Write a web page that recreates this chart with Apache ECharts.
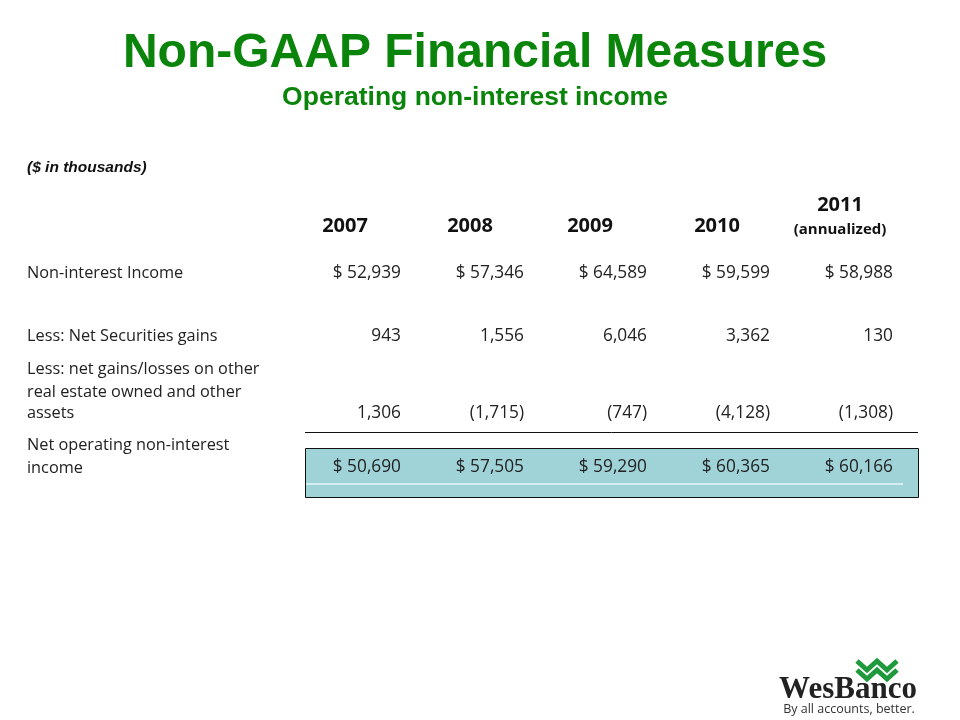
<!DOCTYPE html>
<html>
<head>
<meta charset="utf-8">
<script src="https://cdn.jsdelivr.net/npm/echarts@6/dist/echarts.min.js"></script>
<style>
  html, body { margin: 0; padding: 0; background: #fff; }
  #plot { width: 960px; height: 720px; }
</style>
</head>
<body>
<div id="plot"></div>
<script>
// 表格数据
var years = ['2007', '2008', '2009', '2010', '2011'];
var rowLabels = [
  ['Non-interest Income'],
  ['Less: Net Securities gains'],
  ['Less: net gains/losses on other', 'real estate owned and other', 'assets'],
  ['Net operating non-interest', 'income']
];
var nonInterestIncome = [52939, 57346, 64589, 59599, 58988];
var securitiesGains = [943, 1556, 6046, 3362, 130];
var oreoGains = [1306, -1715, -747, -4128, -1308];
var netOperating = [50690, 57505, 59290, 60365, 60166];

var green = '#0a840a';
var bodyFont = 'Open Sans';

function fmt(v, dollar) {
  var s = Math.abs(v).toLocaleString('en-US');
  if (v < 0) s = '(' + s + ')';
  return dollar ? '$ ' + s : s;
}

// 列位置（右对齐）
var colRight = [401, 524, 647, 770, 893];
var colCenter = [345, 470, 590, 717, 840];

var myChart = echarts.init(document.getElementById('plot'));

var els = [];

// 标题
els.push({
  type: 'text', x: 475, y: 54,
  style: { text: 'Non-GAAP Financial Measures', fill: green,
    font: 'bold 48px "Liberation Sans", Arial', textAlign: 'center', textVerticalAlign: 'middle' }
});
els.push({
  type: 'text', x: 475, y: 98,
  style: { text: 'Operating non-interest income', fill: green,
    font: 'bold 26.5px "Liberation Sans", Arial', textAlign: 'center', textVerticalAlign: 'middle' }
});
els.push({
  type: 'text', x: 27, y: 168,
  style: { text: '($ in thousands)', fill: '#111',
    font: 'italic bold 15.5px "Liberation Sans", Arial', textVerticalAlign: 'middle' }
});

// 高亮行背景
els.push({
  type: 'rect', shape: { x: 305.5, y: 448.5, width: 613, height: 49 },
  style: { fill: '#a0d3d8', stroke: '#111', lineWidth: 1 }
});
els.push({
  type: 'line', shape: { x1: 306, y1: 484, x2: 903, y2: 484 },
  style: { stroke: '#e6f7f8', lineWidth: 1.5 }
});
// 分隔线
els.push({
  type: 'line', shape: { x1: 305, y1: 432.5, x2: 918, y2: 432.5 },
  style: { stroke: '#111', lineWidth: 1 }
});

// 年份表头
years.forEach(function (y, i) {
  var isLast = i === years.length - 1;
  els.push({
    type: 'text', x: colCenter[i], y: isLast ? 205 : 226,
    style: { text: y, fill: '#111', font: 'bold 20px "' + bodyFont + '"',
      textAlign: 'center', textVerticalAlign: 'middle' }
  });
});
els.push({
  type: 'text', x: colCenter[4], y: 230,
  style: { text: '(annualized)', fill: '#111', font: 'bold 15px "' + bodyFont + '"',
    textAlign: 'center', textVerticalAlign: 'middle' }
});

// 行标签
var labelY = [[273], [336], [369, 392, 413], [445, 468]];
rowLabels.forEach(function (lines, r) {
  lines.forEach(function (t, k) {
    els.push({
      type: 'text', x: 27, y: labelY[r][k],
      style: { text: t, fill: '#222', font: '16.3px "' + bodyFont + '"',
        textVerticalAlign: 'middle' }
    });
  });
});

// 数值
var rows = [
  { vals: nonInterestIncome, dollar: true, y: 273 },
  { vals: securitiesGains, dollar: false, y: 336 },
  { vals: oreoGains, dollar: false, y: 413 },
  { vals: netOperating, dollar: true, y: 467 }
];
rows.forEach(function (row) {
  row.vals.forEach(function (v, i) {
    els.push({
      type: 'text', x: colRight[i], y: row.y,
      style: { text: fmt(v, row.dollar), fill: '#222', font: '17.3px "' + bodyFont + '"',
        textAlign: 'right', textVerticalAlign: 'middle' }
    });
  });
});

// Logo
var chevron = function (dy) {
  return {
    type: 'polyline',
    shape: { points: [[857, 661 + dy], [867, 670 + dy], [877, 661 + dy], [887, 670 + dy], [897, 661 + dy]] },
    style: { stroke: '#1e9a3c', lineWidth: 5, fill: null, lineJoin: 'miter' }
  };
};
els.push(chevron(0));
els.push(chevron(9));
els.push({
  type: 'text', x: 848, y: 690,
  style: { text: 'WesBanco', fill: '#222', font: 'bold 31px "Liberation Serif", serif',
    textAlign: 'center', textVerticalAlign: 'middle' }
});
els.push({
  type: 'text', x: 849, y: 709,
  style: { text: 'By all accounts, better.', fill: '#333', font: '12.5px "' + bodyFont + '"',
    textAlign: 'center', textVerticalAlign: 'middle' }
});

var option = {
  backgroundColor: '#fff',
  animation: false,
  graphic: { elements: els }
};

myChart.setOption(option);
</script>
</body>
</html>
